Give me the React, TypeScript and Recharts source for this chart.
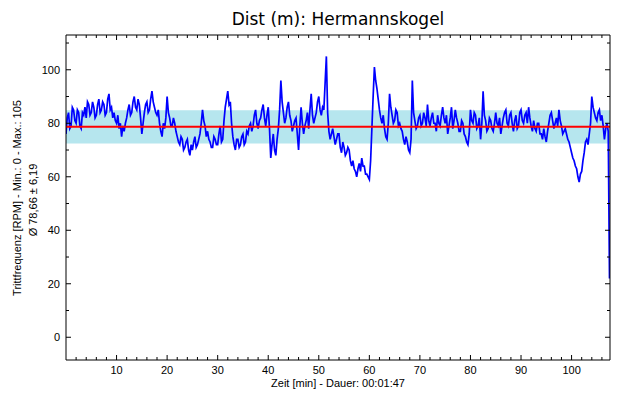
import React from "react";
import {
  ComposedChart,
  Line,
  XAxis,
  YAxis,
  ReferenceArea,
  ReferenceLine,
  Label,
} from "recharts";

// cadence samples, one every quarter minute
const STEP_MIN = 0.25;
const cadence = [
  76, 82, 84, 78, 79, 86, 85, 81, 80, 85, 84, 79, 78, 84, 83, 86, 82, 88, 87, 83,
  84, 88, 86, 82, 83, 87, 89, 84, 85, 88, 87, 83, 84, 89, 91, 85, 86, 82, 84, 81,
  80, 83, 78, 80, 75, 79, 77, 80, 82, 85, 87, 83, 84, 88, 90, 86, 85, 89, 87, 82,
  76, 80, 84, 87, 88, 84, 85, 89, 92, 88, 86, 84, 83, 85, 80, 77, 75, 80, 78, 82,
  90, 84, 82, 79, 79, 82, 80, 77, 75, 73, 72, 75, 74, 70, 71, 73, 74, 70, 68, 72,
  70, 73, 75, 71, 72, 74, 76, 80, 85, 81, 79, 75, 77, 74, 73, 71, 71, 75, 74, 72,
  72, 76, 79, 73, 74, 81, 86, 89, 92, 87, 88, 80, 75, 72, 70, 74, 74, 71, 72, 75,
  76, 72, 73, 77, 76, 79, 80, 77, 79, 83, 85, 80, 78, 81, 82, 85, 87, 82, 79, 83,
  86, 78, 67, 72, 76, 70, 68, 74, 78, 85, 96, 88, 84, 80, 82, 86, 88, 83, 81, 77,
  79, 81, 82, 76, 70, 79, 86, 80, 76, 79, 81, 84, 78, 85, 91, 83, 80, 82, 84, 88,
  90, 85, 83, 86, 85, 95, 105, 84, 77, 74, 76, 78, 75, 72, 74, 76, 76, 71, 69, 73,
  71, 68, 69, 71, 70, 66, 64, 66, 63, 62, 60, 63, 65, 62, 67, 64, 64, 61, 61, 60,
  59, 66, 78, 90, 101, 96, 93, 89, 85, 82, 80, 83, 78, 75, 74, 80, 91, 86, 83, 80,
  81, 85, 84, 79, 80, 78, 77, 74, 72, 75, 73, 70, 69, 74, 96, 84, 81, 78, 79, 82,
  83, 79, 80, 84, 82, 79, 87, 81, 79, 82, 84, 80, 80, 77, 83, 80, 79, 83, 86, 82,
  80, 83, 76, 79, 82, 86, 78, 81, 85, 82, 80, 77, 77, 81, 80, 76, 75, 73, 72, 76,
  85, 81, 80, 84, 83, 78, 79, 82, 74, 80, 92, 83, 81, 77, 78, 82, 81, 78, 77, 80,
  84, 80, 79, 82, 76, 79, 82, 84, 85, 80, 79, 83, 84, 80, 77, 81, 83, 78, 79, 84,
  85, 81, 80, 83, 84, 80, 86, 82, 79, 77, 81, 78, 77, 80, 80, 76, 76, 74, 78, 75,
  73, 77, 80, 83, 84, 81, 78, 80, 82, 79, 85, 81, 79, 76, 77, 78, 76, 74, 73, 71,
  69, 67, 66, 64, 63, 60, 58, 61, 62, 66, 69, 73, 74, 72, 76, 80, 90, 86, 84, 82,
  81, 84, 85, 81, 83, 79, 74, 78, 80, 77, 22,
];

const MEAN = 78.66;
const SD = 6.19;

const xTicks = [
  2, 4, 6, 8, 10, 12, 14, 16, 18, 20, 22, 24, 26, 28, 30, 32, 34, 36, 38, 40, 42,
  44, 46, 48, 50, 52, 54, 56, 58, 60, 62, 64, 66, 68, 70, 72, 74, 76, 78, 80, 82,
  84, 86, 88, 90, 92, 94, 96, 98, 100, 102, 104, 106,
];
const yTicks = [0, 10, 20, 30, 40, 50, 60, 70, 80, 90, 100, 110];

const data = cadence.map((v, i) => ({ t: i * STEP_MIN, v }));

const FONT = "'Liberation Sans', Arial, sans-serif";

function BottomTick(props: any) {
  const { x, y, payload } = props;
  const major = payload.value % 10 === 0;
  return (
    <g>
      <line x1={x} y1={y} x2={x} y2={y - (major ? 5 : 3)} stroke="#000" />
      {major && (
        <text x={x} y={y + 14} textAnchor="middle" fontSize={11} fontFamily={FONT} fill="#000">
          {payload.value}
        </text>
      )}
    </g>
  );
}

function TopTick(props: any) {
  const { x, y, payload } = props;
  const major = payload.value % 10 === 0;
  return <line x1={x} y1={y} x2={x} y2={y + (major ? 5 : 3)} stroke="#000" />;
}

function LeftTick(props: any) {
  const { x, y, payload } = props;
  const major = payload.value % 20 === 0;
  return (
    <g>
      <line x1={x} y1={y} x2={x + (major ? 5 : 3)} y2={y} stroke="#000" />
      {major && (
        <text x={x - 6} y={y + 4} textAnchor="end" fontSize={11} fontFamily={FONT} fill="#000">
          {payload.value}
        </text>
      )}
    </g>
  );
}

function RightTick(props: any) {
  const { x, y, payload } = props;
  const major = payload.value % 20 === 0;
  return <line x1={x} y1={y} x2={x - (major ? 5 : 3)} y2={y} stroke="#000" />;
}

export default function App() {
  return (
    <div style={{ position: "absolute", left: 0, top: 0, background: "#fff" }}>
      <ComposedChart
        width={620}
        height={400}
        data={data}
        margin={{ top: 34, right: 9, bottom: 0, left: 0 }}
      >
        <XAxis
          dataKey="t"
          type="number"
          domain={[0, 107.6]}
          ticks={xTicks}
          allowDataOverflow
          height={40}
          tickSize={0}
          tickMargin={0}
          tickLine={false}
          tick={<BottomTick />}
          axisLine={{ stroke: "#000" }}
          interval={0}
        >
          <Label
            content={() => (
              <g>
                <text x={338} y={387} textAnchor="middle" fontSize={11} fontFamily={FONT} fill="#000">
                  Zeit [min] - Dauer: 00:01:47
                </text>
                <text x={338} y={25} textAnchor="middle" fontSize={17} fontFamily="'DejaVu Sans', Verdana, sans-serif" fill="#000">
                  Dist (m): Hermannskogel
                </text>
              </g>
            )}
          />
        </XAxis>
        <XAxis
          xAxisId="top"
          orientation="top"
          dataKey="t"
          type="number"
          domain={[0, 107.6]}
          ticks={xTicks}
          allowDataOverflow
          height={1}
          tickSize={0}
          tickMargin={0}
          tickLine={false}
          tick={<TopTick />}
          axisLine={{ stroke: "#000" }}
          interval={0}
        />
        <YAxis
          type="number"
          domain={[-8.5, 113]}
          ticks={yTicks}
          allowDataOverflow
          width={66}
          tickSize={0}
          tickMargin={0}
          tickLine={false}
          tick={<LeftTick />}
          axisLine={{ stroke: "#000" }}
          interval={0}
        >
          <Label
            content={() => (
              <g fontSize={11} fontFamily={FONT} fill="#000">
                <text x={21} y={198} textAnchor="middle" transform="rotate(-90 21 198)">
                  Trittfrequenz [RPM] - Min.: 0 - Max.: 105
                </text>
                <text x={37} y={200} textAnchor="middle" transform="rotate(-90 37 200)">
                  Ø 78,66 ± 6,19
                </text>
              </g>
            )}
          />
        </YAxis>
        <YAxis
          yAxisId="right"
          orientation="right"
          type="number"
          domain={[-8.5, 113]}
          ticks={yTicks}
          allowDataOverflow
          width={1}
          tickSize={0}
          tickMargin={0}
          tickLine={false}
          tick={<RightTick />}
          axisLine={{ stroke: "#000" }}
          interval={0}
        />
        <ReferenceArea
          y1={MEAN - SD}
          y2={MEAN + SD}
          fill="#b6e6ee"
          fillOpacity={1}
          stroke="none"
        />
        <Line
          type="linear"
          dataKey="v"
          stroke="#0000ff"
          strokeWidth={1.7}
          dot={false}
          activeDot={false}
          isAnimationActive={false}
        />
        <ReferenceLine y={MEAN} stroke="#ff0000" strokeWidth={2} />
      </ComposedChart>
    </div>
  );
}
